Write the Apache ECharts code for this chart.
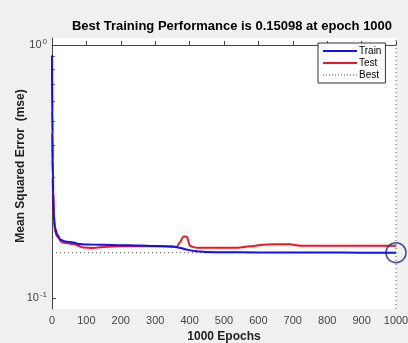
<!DOCTYPE html>
<html><head><meta charset="utf-8">
<script src="https://cdn.jsdelivr.net/npm/echarts@6/dist/echarts.min.js"></script>
<style>html,body{margin:0;padding:0;background:#f0f0f0}#c{width:408px;height:343px}</style>
</head><body><div id="c"></div>
<script>
const titleText = 'Best Training Performance is 0.15098 at epoch 1000';
const xName = '1000 Epochs';
const yName = 'Mean Squared Error  (mse)';
const bestValue = 0.15098;
const bestEpoch = 1000;
const trainEpochs = [0, 1, 2, 3, 5, 9, 15, 25, 38, 62, 77, 100, 150, 200, 250, 300, 352, 370, 390, 410, 430, 450, 500, 600, 700, 800, 900, 1000];
const trainMse = [0.91, 0.45, 0.30, 0.26, 0.215, 0.189, 0.178, 0.170, 0.1673, 0.1658, 0.1635, 0.1627, 0.1622, 0.1617, 0.1612, 0.1606, 0.1598, 0.158, 0.1555, 0.1535, 0.1525, 0.1518, 0.1515, 0.1513, 0.1512, 0.1511, 0.1510, 0.15098];
const testEpochs = [0, 1, 2, 4, 6, 9, 15, 28, 45, 62, 91, 120, 159, 200, 250, 300, 340, 362, 372, 382, 392, 401, 410, 420, 450, 500, 540, 576, 624, 692, 721, 800, 900, 1000];
const testMse = [0.89, 0.55, 0.35, 0.266, 0.20, 0.182, 0.175, 0.166, 0.1645, 0.1633, 0.1584, 0.1575, 0.1595, 0.1600, 0.1603, 0.1601, 0.1597, 0.1590, 0.166, 0.1751, 0.1745, 0.1607, 0.1588, 0.1580, 0.1578, 0.1578, 0.1580, 0.1600, 0.1628, 0.1630, 0.1607, 0.1607, 0.1607, 0.1607];
const yMin = 0.0904, yMax = 1.066;
const yMajorTicks = [0.1, 1];
const yMinorTicks = [0.2, 0.3, 0.4, 0.5, 0.6, 0.7, 0.8, 0.9];
const xMin = 0, xMax = 1000, xInterval = 100;

// y axis is drawn on log10(mse) through a linear value axis (MATLAB semilogy look)
const lg = v => Math.log10(v);
const zipLog = (a, b) => a.map((v, i) => [v, lg(b[i])]);
const chart = echarts.init(document.getElementById('c'));
const font = 'Liberation Sans, Arial';
chart.setOption({
  backgroundColor: '#f0f0f0',
  animation: false,
  title: {text: titleText, left: 227, top: 15, textAlign: 'center',
    textStyle: {fontFamily: font, fontWeight: 'bold', fontSize: 13, color: '#000'}},
  grid: {left: 52, right: 12, top: 38, bottom: 34, outerBoundsMode: 'none', containLabel: false,
    backgroundColor: '#ffffff', show: true, borderWidth: 0},
  legend: {
    data: [
      {name: 'Train', icon: 'rect'},
      {name: 'Test', icon: 'rect'},
      {name: 'Best', icon: 'path://M0,0h1v1h-1zM3,0h1v1h-1zM6,0h1v1h-1zM9,0h1v1h-1zM12,0h1v1h-1zM15,0h1v1h-1zM18,0h1v1h-1zM21,0h1v1h-1zM24,0h1v1h-1zM27,0h1v1h-1zM30,0h1v1h-1zM33,0h1v1h-1z'}
    ],
    orient: 'vertical', left: 318, top: 43,
    itemWidth: 34, itemHeight: 2, itemGap: 0, padding: [2, 4, 2, 5],
    backgroundColor: '#fff', borderColor: '#333', borderWidth: 1, borderRadius: 0,
    textStyle: {fontFamily: font, fontSize: 10, color: '#000', padding: [0, 0, 0, -3], lineHeight: 12}
  },
  xAxis: {
    type: 'value', min: xMin, max: xMax, interval: xInterval,
    name: xName, nameLocation: 'middle', nameGap: 19,
    nameTextStyle: {fontFamily: font, fontWeight: 'bold', fontSize: 12, color: '#222'},
    axisLine: {lineStyle: {color: '#444', width: 1}},
    axisTick: {inside: true, length: 4, lineStyle: {color: '#444'}},
    axisLabel: {color: '#444', fontSize: 11, fontFamily: font, margin: 6, formatter: v => String(v)},
    splitLine: {show: false}
  },
  yAxis: [{
    type: 'value', min: lg(yMin), max: lg(yMax),
    axisLine: {show: true, lineStyle: {color: '#444', width: 1}},
    axisTick: {inside: true, length: 4, customValues: yMajorTicks.map(lg), lineStyle: {color: '#444'}},
    axisLabel: {customValues: yMajorTicks.map(lg), margin: 5, color: '#444', fontSize: 11, fontFamily: font,
      formatter: v => '10{s|' + Math.round(v) + '}',
      rich: {s: {fontSize: 8, verticalAlign: 'top', padding: [0, 0, 7, 1], color: '#444', fontFamily: font}}},
    splitLine: {show: false}
  }, {
    type: 'value', min: lg(yMin), max: lg(yMax), position: 'left',
    axisLine: {show: false},
    axisTick: {show: true, inside: true, length: 3, customValues: yMinorTicks.map(lg), lineStyle: {color: '#666'}},
    axisLabel: {show: false, customValues: yMinorTicks.map(lg)}, splitLine: {show: false}
  }],
  series: [
    {name: 'Train', type: 'line', data: zipLog(trainEpochs, trainMse), showSymbol: false, symbol: 'none',
      smooth: 0.3, smoothMonotone: 'x', lineStyle: {color: '#1010f0', width: 2}, itemStyle: {color: '#1010f0'}, z: 3},
    {name: 'Test', type: 'line', data: zipLog(testEpochs, testMse), showSymbol: false, symbol: 'none',
      smooth: 0.3, smoothMonotone: 'x', lineStyle: {color: '#f0161e', width: 2}, itemStyle: {color: '#f0161e'}, z: 2},
    {name: 'Best', type: 'line', data: [[xMin, lg(bestValue)], [xMax, lg(bestValue)]], symbol: 'none',
      lineStyle: {color: '#555', width: 1, type: [1, 3]}, itemStyle: {color: '#555'}, z: 1},
    {name: 'Best', type: 'line', data: [[bestEpoch, lg(yMin)], [bestEpoch, lg(yMax)]], symbol: 'none',
      lineStyle: {color: '#555', width: 1, type: [1, 3]}, itemStyle: {color: '#555'}, z: 1},
    {name: 'BestPoint', type: 'scatter', data: [[bestEpoch, lg(bestValue)]], symbol: 'circle', symbolSize: 20,
      itemStyle: {color: 'rgba(0,0,0,0)', borderColor: '#1f1f8a', borderWidth: 1.5}, z: 4}
  ],
  graphic: [{type: 'text', x: 21, y: 166, rotation: Math.PI / 2,
    style: {text: yName, x: 0, y: 0, align: 'center', verticalAlign: 'middle', fill: '#222',
      font: 'bold 12px "Liberation Sans", Arial'}}]
});
</script></body></html>
